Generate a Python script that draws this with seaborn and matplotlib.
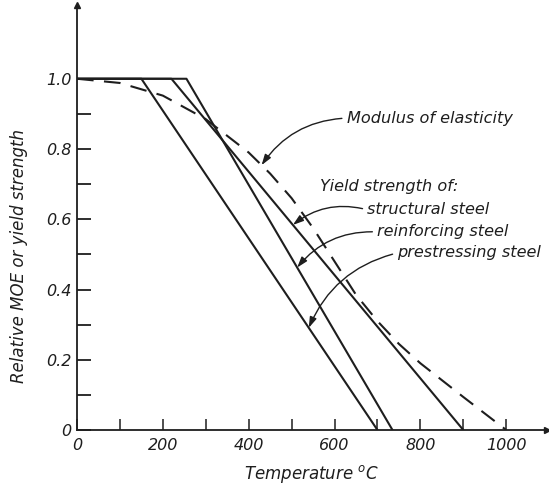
import numpy as np
import pandas as pd
import matplotlib
matplotlib.use("Agg")
import matplotlib.pyplot as plt
import seaborn as sns

# Temperature (deg C) and relative values for each curve
moe_temp = [0, 100, 200, 300, 400, 450, 500, 550, 600, 650, 700, 750, 800, 900, 1000]
moe_rel = [1.0, 0.988, 0.952, 0.885, 0.79, 0.73, 0.66, 0.575, 0.48, 0.385, 0.31,
           0.245, 0.19, 0.094, 0.0]

structural_temp = [0, 220, 900]
structural_rel = [1.0, 1.0, 0.0]

reinforcing_temp = [0, 255, 735]
reinforcing_rel = [1.0, 1.0, 0.0]

prestressing_temp = [0, 150, 700]
prestressing_rel = [1.0, 1.0, 0.0]

x_ticks = [0, 200, 400, 600, 800, 1000]
x_minor = [100, 300, 500, 700, 900]
y_ticks = [0, 0.2, 0.4, 0.6, 0.8, 1.0]
y_tick_labels = ["0", "0.2", "0.4", "0.6", "0.8", "1.0"]
y_minor = [0.1, 0.3, 0.5, 0.7, 0.9]

sns.set_theme(style="white")
plt.rcParams["font.family"] = ["DejaVu Sans"]
plt.rcParams["font.style"] = "italic"
plt.rcParams["mathtext.default"] = "it"

ink = "#1e1e1e"
fig = plt.figure(figsize=(5.49, 4.96), dpi=100)
ax = fig.add_axes([77 / 549, 66 / 496, 470 / 549, 425 / 496])

lw = 1.5
df_moe = pd.DataFrame({"T": moe_temp, "v": moe_rel})
sns.lineplot(data=df_moe, x="T", y="v", ax=ax, color=ink, lw=lw,
             linestyle=(0, (8, 5)), sort=False)
for t, v in [(structural_temp, structural_rel),
             (reinforcing_temp, reinforcing_rel),
             (prestressing_temp, prestressing_rel)]:
    sns.lineplot(data=pd.DataFrame({"T": t, "v": v}), x="T", y="v", ax=ax,
                 color=ink, lw=lw, sort=False)

ax.set_xlim(0, 1095)
ax.set_ylim(0, 1.21)

for side in ("top", "right"):
    ax.spines[side].set_visible(False)
for side in ("left", "bottom"):
    ax.spines[side].set_color(ink)
    ax.spines[side].set_linewidth(1.3)

# axis arrowheads
ax.plot([1], [0], marker=">", color=ink, ms=5, transform=ax.transAxes, clip_on=False)
ax.plot([0], [1], marker="^", color=ink, ms=5, transform=ax.transAxes, clip_on=False)

ax.set_xticks(x_ticks)
ax.set_xticks(x_minor, minor=True)
ax.set_xticklabels([str(v) for v in x_ticks])
ax.set_yticks(y_ticks)
ax.set_yticks(y_minor, minor=True)
ax.set_yticklabels(y_tick_labels)
ax.tick_params(axis="x", which="both", direction="in", length=8, width=1.1,
               color=ink, labelsize=11.5, pad=6, bottom=True)
ax.tick_params(axis="y", which="both", direction="in", length=10, width=1.3,
               color=ink, labelsize=11.5, pad=4, left=True)
for lab in ax.get_xticklabels() + ax.get_yticklabels():
    lab.set_fontstyle("italic")
    lab.set_color(ink)

ax.set_xlabel(r"Temperature $^o$C", fontsize=12, style="italic", labelpad=7, color=ink)
ax.set_ylabel("Relative MOE or yield strength", fontsize=12, style="italic", color=ink)
ax.yaxis.set_label_coords(-0.104, 0.41)

arrow_kw = dict(arrowstyle="-|>,head_length=0.55,head_width=0.18", color=ink,
                lw=1.0, shrinkA=1, shrinkB=0)
fs = 11.6

def on_curve(t, xs, ys):
    return (t, float(np.interp(t, xs, ys)))

ax.annotate("Modulus of elasticity", xy=on_curve(430, moe_temp, moe_rel),
            xytext=(628, 0.888), fontsize=fs, style="italic", va="center", ha="left",
            color=ink,
            arrowprops=dict(**arrow_kw, relpos=(0, 0.5), connectionstyle="arc3,rad=0.25"))

ax.text(566, 0.692, "Yield strength of:", fontsize=fs, style="italic",
        va="center", ha="left", color=ink)

ax.annotate("structural steel", xy=on_curve(503, structural_temp, structural_rel),
            xytext=(676, 0.627), fontsize=fs, style="italic", va="center", ha="left",
            color=ink,
            arrowprops=dict(**arrow_kw, relpos=(0, 0.5), connectionstyle="arc3,rad=0.25"))
ax.annotate("reinforcing steel", xy=on_curve(513, reinforcing_temp, reinforcing_rel),
            xytext=(699, 0.564), fontsize=fs, style="italic", va="center", ha="left",
            color=ink,
            arrowprops=dict(**arrow_kw, relpos=(0, 0.5), connectionstyle="arc3,rad=0.25"))
ax.annotate("prestressing steel", xy=on_curve(540, prestressing_temp, prestressing_rel),
            xytext=(746, 0.504), fontsize=fs, style="italic", va="center", ha="left",
            color=ink,
            arrowprops=dict(**arrow_kw, relpos=(0, 0.5), connectionstyle="arc3,rad=0.25"))

fig.savefig("out.png", dpi=100)
